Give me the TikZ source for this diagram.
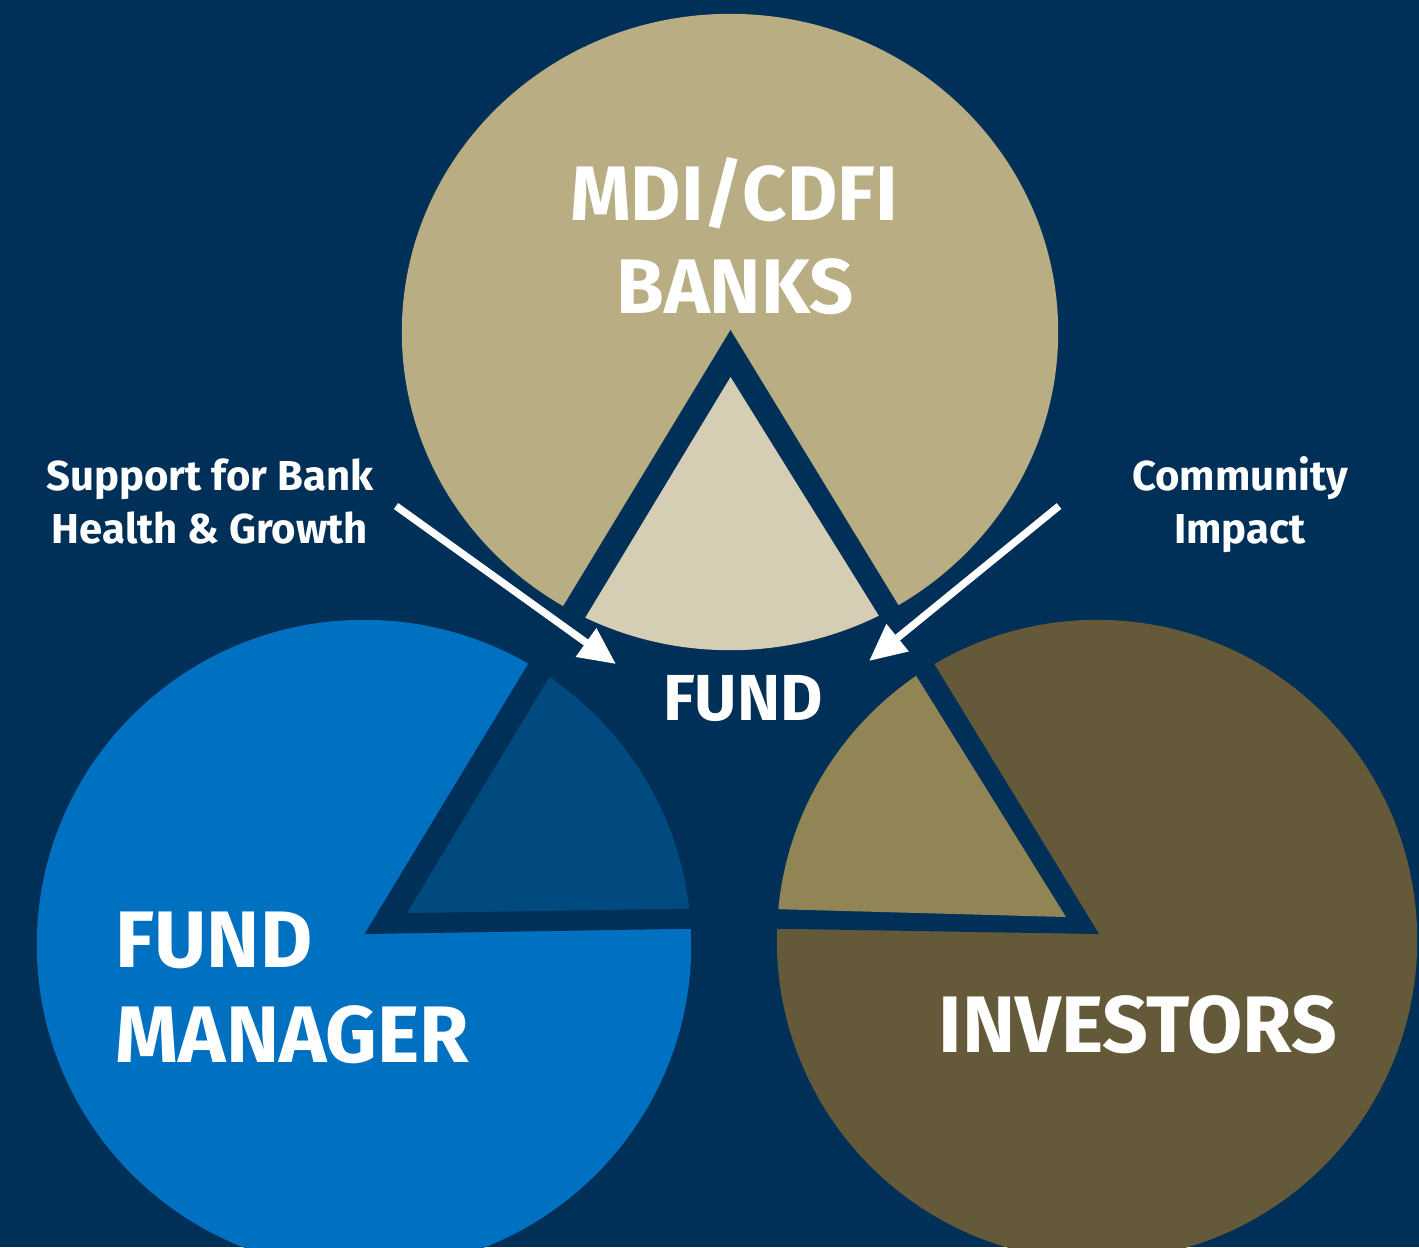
\documentclass[tikz,border=0pt]{standalone}
\usepackage{fontspec}
\setmainfont{Fira Sans}
\usetikzlibrary{arrows.meta}
\definecolor{bgnavy}{RGB}{0,48,87}
\definecolor{tanA}{RGB}{184,173,131}
\definecolor{tanB}{RGB}{214,206,180}
\definecolor{blueA}{RGB}{0,112,192}
\definecolor{blueB}{RGB}{0,74,128}
\definecolor{oliveA}{RGB}{100,90,58}
\definecolor{oliveB}{RGB}{145,133,86}
\begin{document}
\begin{tikzpicture}[x=0.01cm,y=-0.01cm,
  lbl/.style={text=white,inner sep=0pt,anchor=base},
  biglbl/.style={lbl,font=\fontsize{22}{26}\selectfont\bfseries},
  bigblbl/.style={lbl,font=\fontsize{22.8}{26}\selectfont\bfseries},
  midlbl/.style={lbl,font=\fontsize{18.5}{22}\selectfont\bfseries},
  smalllbl/.style={lbl,font=\fontsize{11.9}{14}\selectfont\bfseries},
  arr/.style={draw=white,line width=2.1pt,-{Triangle[length=10.5pt,width=9.5pt]}}]
\useasboundingbox (0,0) rectangle (1419,1247);
\clip (0,0) rectangle (1419,1247);
\fill[bgnavy] (0,0) rectangle (1419,1247);
% circles
\fill[tanA] (730,332) ellipse [x radius=3.28cm, y radius=3.18cm];
\fill[blueA] (364,945) ellipse [x radius=3.27cm, y radius=3.25cm];
\fill[oliveA] (1097,940) ellipse [x radius=3.20cm, y radius=3.20cm];
% triangle band
\fill[bgnavy] (730.5,330) -- (364.5,934) -- (735,928) -- (1099,934) -- cycle;
\begin{scope}
  \clip (730.5,377) -- (407,913) -- (735,908) -- (1066,917) -- cycle;
  \fill[tanB] (730,332) ellipse [x radius=3.28cm, y radius=3.18cm];
  \fill[blueB] (364,945) ellipse [x radius=3.27cm, y radius=3.25cm];
  \fill[oliveB] (1097,940) ellipse [x radius=3.20cm, y radius=3.20cm];
\end{scope}
% labels
\node[biglbl] (mdi) at (734,220) {MDI/CDFI};
\node[biglbl] (banks) at (735,313) {BANKS};
\node[midlbl] (fund) at (743,720) {FUND};
\node[bigblbl,anchor=base west] (fm1) at (115,967) {FUND};
\node[bigblbl,anchor=base west] (fm2) at (115,1062) {MANAGER};
\node[bigblbl] (inv) at (1138,1052) {INVESTORS};
\node[smalllbl] (sup1) at (210,490) {Support for Bank};
\node[smalllbl] (sup2) at (210,543) {Health \& Growth};
\node[smalllbl] (com1) at (1240,490) {Community};
\node[smalllbl] (com2) at (1240,543) {Impact};
% arrows
\coordinate (a1s) at (396,506);
\coordinate (a1e) at (616,664);
\coordinate (a2s) at (1059,506);
\coordinate (a2e) at (869,661);
\draw[arr] (a1s) -- (a1e);
\draw[arr] (a2s) -- (a2e);
\end{tikzpicture}
\end{document}
